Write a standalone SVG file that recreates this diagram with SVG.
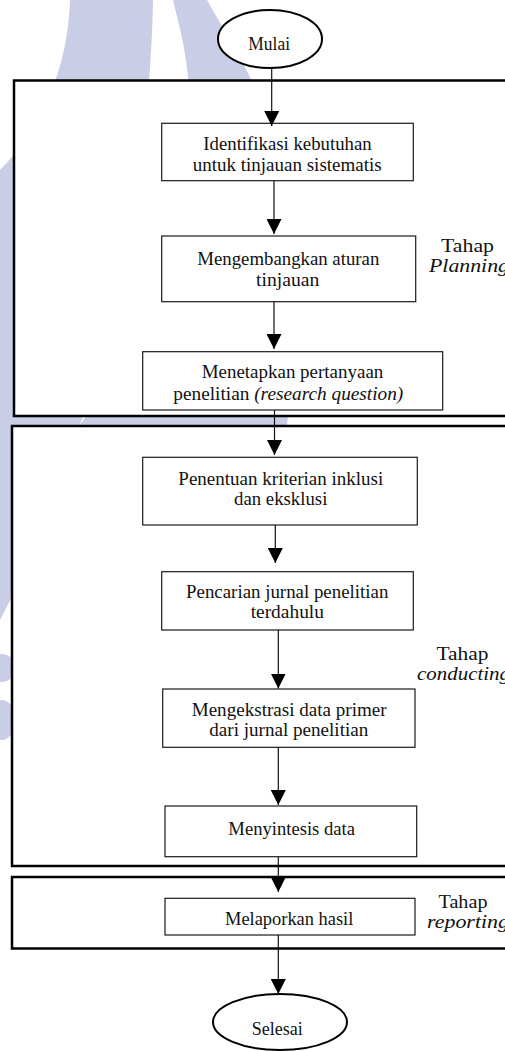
<svg xmlns="http://www.w3.org/2000/svg" width="505" height="1051" viewBox="0 0 505 1051">
<style>
.wm{fill:#c9cde6}
.ct{fill:#fff;stroke:#000;stroke-width:2.5}
.bx{fill:#fff;stroke:#1a1a1a;stroke-width:1.2}
.el{fill:#fff;stroke:#000;stroke-width:2}
.t{font-family:"Liberation Serif","Times New Roman",serif;font-size:18.5px;fill:#111;text-anchor:middle}
.lb{font-family:"Liberation Serif","Times New Roman",serif;font-size:19.5px;fill:#111}
.i{font-style:italic}
.cn line{stroke:#111;stroke-width:1.2;marker-end:url(#ah)}
</style>
<defs>
<marker id="ah" markerUnits="userSpaceOnUse" markerWidth="15" markerHeight="15" refX="14" refY="7" orient="auto" viewBox="0 0 14 14">
<path d="M0,0 L14,7 L0,14 Z" fill="#000"/>
</marker>
</defs>
<rect width="505" height="1051" fill="#fff"/>
<g id="watermark">
<path class="wm" d="M70,0 L153,0 C150,200 90,450 0,620 L0,170 C40,130 68,70 70,0 Z"/>
<path class="wm" d="M173,0 L207,0 C240,60 292,120 292,300 C292,380 289,430 282,450 L60,450 C120,380 190,250 190,120 C190,60 180,30 173,0 Z"/>
<ellipse class="wm" cx="2" cy="668" rx="13" ry="14"/>
<ellipse class="wm" cx="2" cy="720" rx="13" ry="20"/>
</g>
<g id="stage-planning">
<rect class="ct" x="14" y="80.5" width="520" height="335.5"/>
<text class="lb" x="467.5" y="252" text-anchor="middle" textLength="53" lengthAdjust="spacingAndGlyphs">Tahap</text>
<text class="lb i" x="429" y="272" textLength="80" lengthAdjust="spacingAndGlyphs">Planning</text>
</g>
<g id="stage-conducting">
<rect class="ct" x="12" y="426" width="520" height="440"/>
<text class="lb" x="462.5" y="660" text-anchor="middle" textLength="52" lengthAdjust="spacingAndGlyphs">Tahap</text>
<text class="lb i" x="417" y="680" textLength="93" lengthAdjust="spacingAndGlyphs">conducting</text>
</g>
<g id="stage-reporting">
<rect class="ct" x="12" y="877" width="520" height="71.5"/>
<text class="lb" x="463" y="908" text-anchor="middle" textLength="49" lengthAdjust="spacingAndGlyphs">Tahap</text>
<text class="lb i" x="427" y="928" textLength="82" lengthAdjust="spacingAndGlyphs">reporting</text>
</g>
<g id="mulai">
<ellipse class="el" cx="270" cy="39" rx="52" ry="29"/>
<text class="t" x="269.2" y="50" textLength="41.7" lengthAdjust="spacingAndGlyphs">Mulai</text>
</g>
<g id="identifikasi">
<rect class="bx" x="161.7" y="123.3" width="251.6" height="57.4"/>
<text class="t" x="287.5" y="150" textLength="168.4" lengthAdjust="spacingAndGlyphs">Identifikasi kebutuhan</text>
<text class="t" x="287.2" y="171" textLength="189" lengthAdjust="spacingAndGlyphs">untuk tinjauan sistematis</text>
</g>
<g id="mengembangkan">
<rect class="bx" x="161.7" y="236" width="254" height="65.7"/>
<text class="t" x="288.3" y="265" textLength="182" lengthAdjust="spacingAndGlyphs">Mengembangkan aturan</text>
<text class="t" x="287.7" y="286" textLength="63.3" lengthAdjust="spacingAndGlyphs">tinjauan</text>
</g>
<g id="menetapkan">
<rect class="bx" x="142.7" y="351.7" width="300" height="58.3"/>
<text class="t" x="292.5" y="378.3" textLength="181.6" lengthAdjust="spacingAndGlyphs">Menetapkan pertanyaan</text>
<text class="t" x="288.3" y="400" textLength="230" lengthAdjust="spacingAndGlyphs">penelitian <tspan class="i">(research question)</tspan></text>
</g>
<g id="penentuan">
<rect class="bx" x="142.7" y="457.3" width="274.6" height="67.7"/>
<text class="t" x="280.8" y="485" textLength="205" lengthAdjust="spacingAndGlyphs">Penentuan kriterian inklusi</text>
<text class="t" x="280.7" y="505" textLength="93.3" lengthAdjust="spacingAndGlyphs">dan eksklusi</text>
</g>
<g id="pencarian">
<rect class="bx" x="161.7" y="571.7" width="251.6" height="58.3"/>
<text class="t" x="287.2" y="598.3" textLength="202.3" lengthAdjust="spacingAndGlyphs">Pencarian jurnal penelitian</text>
<text class="t" x="287.3" y="618" textLength="73.3" lengthAdjust="spacingAndGlyphs">terdahulu</text>
</g>
<g id="mengekstrasi">
<rect class="bx" x="162.7" y="689" width="252.3" height="58.3"/>
<text class="t" x="289.2" y="716" textLength="195" lengthAdjust="spacingAndGlyphs">Mengekstrasi data primer</text>
<text class="t" x="288.8" y="736" textLength="159" lengthAdjust="spacingAndGlyphs">dari jurnal penelitian</text>
</g>
<g id="menyintesis">
<rect class="bx" x="165" y="806" width="251.7" height="50.7"/>
<text class="t" x="291.7" y="835" textLength="126.7" lengthAdjust="spacingAndGlyphs">Menyintesis data</text>
</g>
<g id="melaporkan">
<rect class="bx" x="165" y="898.3" width="250" height="36.7"/>
<text class="t" x="289.2" y="925" textLength="128.3" lengthAdjust="spacingAndGlyphs">Melaporkan hasil</text>
</g>
<g id="selesai">
<ellipse class="el" cx="280" cy="1022" rx="67" ry="28"/>
<text class="t" x="277.2" y="1035" textLength="51" lengthAdjust="spacingAndGlyphs">Selesai</text>
</g>
<g id="connectors" class="cn">
<line x1="271.7" y1="68" x2="271.7" y2="126"/>
<line x1="274" y1="181" x2="274" y2="234"/>
<line x1="274" y1="302" x2="274" y2="349"/>
<line x1="274.5" y1="410" x2="274.5" y2="455"/>
<line x1="275.3" y1="525" x2="275.3" y2="563"/>
<line x1="278.3" y1="630" x2="278.3" y2="688.5"/>
<line x1="278.3" y1="747.3" x2="278.3" y2="805"/>
<line x1="278.3" y1="857" x2="278.3" y2="892"/>
<line x1="278.3" y1="935" x2="278.3" y2="994"/>
</g>
</svg>
